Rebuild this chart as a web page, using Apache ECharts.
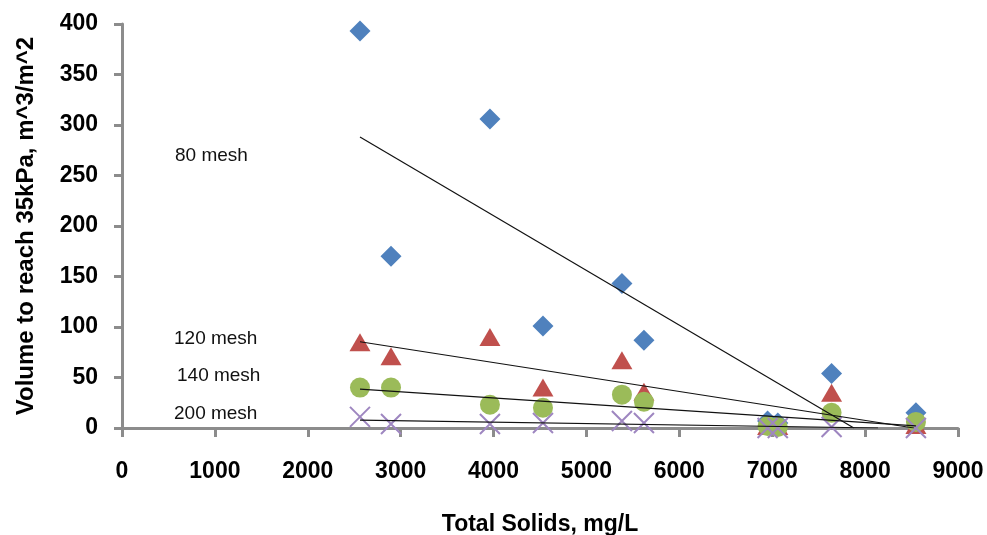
<!DOCTYPE html>
<html>
<head>
<meta charset="utf-8">
<script src="https://cdn.jsdelivr.net/npm/echarts@6/dist/echarts.min.js"></script>
<style>
html,body{margin:0;padding:0;background:#fff;}
#chart{width:987px;height:535px;}
</style>
</head>
<body>
<div id="chart"></div>
<script>
// Total solids (mg/L), shared by all series
const totalSolids = [2562, 2896, 3961, 4532, 5382, 5619, 6950, 7060, 7639, 8547];
// Volume to reach 35 kPa (m^3/m^2)
const mesh80  = [393, 170, 306, 101, 143, 87, 7, 5, 54, 15];
const mesh120 = [85, 71, 90, 40, 67, 36, 2, 2, 35, 3];
const mesh140 = [40, 40, 23, 20, 33, 26, 2, 1, 15, 6];
const mesh200 = [11, 4, 4, 5, 7, 5, 0, 0, 1, 0];
const seriesNames = ['80 mesh', '120 mesh', '140 mesh', '200 mesh'];
const xTicks = [0, 1000, 2000, 3000, 4000, 5000, 6000, 7000, 8000, 9000];
const yTicks = [0, 50, 100, 150, 200, 250, 300, 350, 400];

const allY = [mesh80, mesh120, mesh140, mesh200];
const colors = ['#4F81BD', '#C0504D', '#9BBB59', '#9E86C0'];

function pairs(ys){ return totalSolids.map((x,i)=>[x, ys[i]]); }
function trend(ys){
  const n = totalSolids.length;
  let mx=0,my=0; for(let i=0;i<n;i++){mx+=totalSolids[i];my+=ys[i];} mx/=n; my/=n;
  let sxy=0,sxx=0; for(let i=0;i<n;i++){const dx=totalSolids[i]-mx; sxy+=dx*(ys[i]-my); sxx+=dx*dx;}
  const b=sxy/sxx, a=my-b*mx;
  const x0=Math.min(...totalSolids), x1=Math.max(...totalSolids);
  let xe = x1, ye = a+b*x1;
  if (ye < 0) { xe = -a/b; ye = 0; }
  return [[x0, a+b*x0],[xe, ye]];
}

const symbols = [
  {symbol:'diamond', size:[21,21]},
  {symbol:'triangle', size:[21,18]},
  {symbol:'circle', size:20},
  {symbol:'path://M0,0L10,10M10,0L0,10', size:[20,20]}
];

const series = [];
allY.forEach((ys, k)=>{
  series.push({
    type:'scatter', name: seriesNames[k], data: pairs(ys),
    symbol: symbols[k].symbol, symbolSize: symbols[k].size, z: 2 + k,
    itemStyle: k===3 ? {color:'rgba(0,0,0,0)', borderColor: colors[k], borderWidth: 2, opacity:1}
                     : {color: colors[k], opacity:1}
  });
});
allY.forEach((ys, k)=>{
  series.push({
    type:'line', data: trend(ys), showSymbol:false, symbol:'none', z: 10, clip: true,
    lineStyle:{color:'#111', width:1.2}, silent:true
  });
});

const chart = echarts.init(document.getElementById('chart'));
const labelFont = {fontFamily:'Liberation Sans, Arial, sans-serif', fontWeight:'bold', fontSize:23, color:'#000'};
chart.setOption({
  animation:false,
  backgroundColor:'#fff',
  grid:{left:122, right:29, top:24, bottom:107, containLabel:false, outerBoundsMode:'none'},
  xAxis:{
    type:'value', min: xTicks[0], max: xTicks[xTicks.length-1], interval: xTicks[1]-xTicks[0],
    splitLine:{show:false},
    axisLine:{show:true, lineStyle:{color:'#8C8C8C', width:3}},
    axisTick:{show:true, length:9, lineStyle:{color:'#8C8C8C', width:3}},
    axisLabel:Object.assign({margin:32, formatter: v => String(v)}, labelFont),
    name:'Total Solids, mg/L', nameLocation:'middle', nameGap:85,
    nameTextStyle:{fontFamily:'Liberation Sans, Arial, sans-serif', fontWeight:'bold', fontSize:23, color:'#000'}
  },
  yAxis:{
    type:'value', min: yTicks[0], max: yTicks[yTicks.length-1], interval: yTicks[1]-yTicks[0],
    splitLine:{show:false},
    axisLine:{show:true, lineStyle:{color:'#8C8C8C', width:3}},
    axisTick:{show:true, length:8, lineStyle:{color:'#8C8C8C', width:3}},
    axisLabel:Object.assign({margin:24, formatter: v => String(v)}, labelFont),
    name:'Volume to reach 35kPa, m^3/m^2', nameLocation:'middle', nameGap:84,
    nameTextStyle:{fontFamily:'Liberation Sans, Arial, sans-serif', fontWeight:'bold', fontSize:24, color:'#000'}
  },
  graphic:[
    {type:'text', left:175, top:146, style:{text:seriesNames[0], font:'19px "Liberation Sans", Arial, sans-serif', fill:'#111'}},
    {type:'text', left:174, top:329, style:{text:seriesNames[1], font:'19px "Liberation Sans", Arial, sans-serif', fill:'#111'}},
    {type:'text', left:177, top:366, style:{text:seriesNames[2], font:'19px "Liberation Sans", Arial, sans-serif', fill:'#111'}},
    {type:'text', left:174, top:404, style:{text:seriesNames[3], font:'19px "Liberation Sans", Arial, sans-serif', fill:'#111'}}
  ],
  series: series
});
</script>
</body>
</html>
